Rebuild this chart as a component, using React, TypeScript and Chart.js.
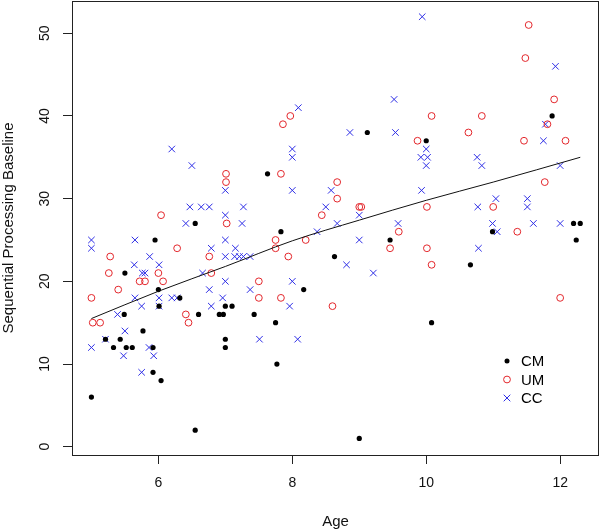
import React, { useEffect, useRef } from 'react';
import { Chart, registerables } from 'chart.js';

Chart.register(...registerables);

const FONT = '"Liberation Sans", Arial, Helvetica, sans-serif';

const seriesNames = ['CM', 'UM', 'CC'];

const cmAge = [5.0, 5.21, 5.33, 5.43, 5.49, 5.5, 5.52, 5.61, 5.77, 5.92, 5.92, 5.95, 6.0, 6.01, 6.04, 6.32, 6.55, 6.55, 6.6, 6.91, 6.97, 7.0, 7.1, 7.0, 7.0, 7.43, 7.63, 7.75, 7.77, 7.83, 8.17, 8.63, 9.0, 9.12, 9.46, 10.0, 10.08, 10.66, 10.99, 11.88, 12.2, 12.3, 12.24];
const cmScore = [6, 13, 12, 13, 16, 21, 12, 12, 14, 12, 9, 25, 19, 17, 8, 18, 27, 2, 16, 16, 16, 17, 17, 13, 12, 16, 33, 15, 10, 26, 19, 23, 1, 38, 25, 37, 15, 22, 26, 40, 27, 27, 25];

const umAge = [5.0, 5.02, 5.13, 5.26, 5.28, 5.4, 5.72, 5.8, 6.0, 6.04, 6.07, 6.28, 6.41, 6.45, 6.76, 6.79, 7.01, 7.01, 7.02, 7.5, 7.5, 7.75, 7.75, 7.83, 7.83, 7.86, 7.94, 7.97, 8.2, 8.44, 8.6, 8.67, 8.67, 9.0, 9.03, 9.46, 9.59, 9.87, 10.01, 10.01, 10.08, 10.08, 10.63, 10.83, 11.0, 11.36, 11.46, 11.48, 11.53, 11.77, 11.81, 11.91, 12.0, 12.08];
const umScore = [18, 15, 15, 21, 23, 19, 20, 20, 21, 28, 20, 24, 16, 15, 23, 21, 33, 32, 27, 20, 18, 25, 24, 18, 33, 39, 23, 40, 25, 28, 17, 32, 30, 29, 29, 24, 26, 37, 29, 24, 22, 40, 38, 40, 29, 26, 37, 47, 51, 32, 39, 42, 18, 37];

const ccAge = [5.0, 5.0, 5.0, 5.21, 5.39, 5.48, 5.5, 5.64, 5.65, 5.65, 5.75, 5.75, 5.76, 5.8, 5.86, 5.87, 5.93, 6.01, 6.01, 6.01, 6.2, 6.28, 6.2, 6.41, 6.47, 6.5, 6.64, 6.66, 6.76, 6.76, 6.79, 6.79, 6.96, 7.0, 7.0, 7.0, 7.0, 7.0, 7.14, 7.15, 7.21, 7.25, 7.27, 7.27, 7.37, 7.37, 7.51, 7.96, 8.0, 8.0, 8.0, 8.0, 8.08, 8.09, 8.37, 8.5, 8.58, 8.67, 8.81, 8.86, 9.0, 9.0, 9.21, 9.52, 9.54, 9.58, 9.93, 9.94, 10.0, 9.92, 10.02, 10.0, 10.76, 10.77, 10.78, 10.83, 10.99, 11.04, 11.06, 11.51, 11.51, 11.6, 11.75, 11.78, 11.93, 12.0, 12.0];
const ccScore = [25, 24, 12, 13, 16, 11, 14, 22, 25, 18, 17, 9, 21, 21, 12, 23, 11, 22, 18, 17, 18, 18, 36, 27, 29, 34, 29, 21, 29, 19, 24, 17, 18, 31, 28, 25, 23, 20, 23, 24, 23, 27, 29, 23, 23, 19, 13, 17, 36, 35, 31, 20, 13, 41, 26, 29, 31, 27, 22, 38, 28, 25, 21, 42, 38, 27, 31, 52, 36, 35, 35, 34, 35, 29, 24, 34, 27, 30, 26, 30, 29, 27, 37, 39, 46, 34, 27];

const fitAge = [5.0, 6.0, 7.0, 8.0, 9.0, 10.0, 11.0, 12.3];
const fitScore = [15.5, 18.8, 21.8, 24.9, 27.4, 29.8, 32.0, 35.0];

const xTicks = [6, 8, 10, 12];
const yTicks = [0, 10, 20, 30, 40, 50];

const RED = '#e3262b';
const BLUE = '#2e2ee6';

const pts = (xs: number[], ys: number[]) => xs.map((x, i) => ({ x, y: ys[i] }));

const framePlugin = {
  id: 'rframe',
  afterDraw(chart: any) {
    const { ctx, chartArea: a } = chart;
    ctx.save();
    ctx.strokeStyle = '#222';
    ctx.lineWidth = 1;
    const l = Math.round(a.left) + 0.5;
    const t = Math.round(a.top) + 0.5;
    const r = Math.round(a.right) - 0.5;
    const b = Math.round(a.bottom) + 0.5;
    ctx.strokeRect(l, t, r - l, b - t);

    // legend (bottom-right, inside plot)
    const sx = a.right - 92;
    const tx = a.right - 78;
    const rows = [a.bottom - 94, a.bottom - 75.5, a.bottom - 57];
    ctx.font = '15px ' + FONT;
    ctx.textBaseline = 'middle';
    ctx.textAlign = 'left';
    ctx.fillStyle = '#000';
    seriesNames.forEach((name, i) => {
      const y = rows[i];
      ctx.beginPath();
      if (i === 0) {
        ctx.fillStyle = '#000';
        ctx.arc(sx, y, 2.5, 0, Math.PI * 2);
        ctx.fill();
      } else if (i === 1) {
        ctx.strokeStyle = RED;
        ctx.arc(sx, y, 3.4, 0, Math.PI * 2);
        ctx.stroke();
      } else {
        ctx.strokeStyle = BLUE;
        const d = 3.3;
        ctx.moveTo(sx - d, y - d);
        ctx.lineTo(sx + d, y + d);
        ctx.moveTo(sx - d, y + d);
        ctx.lineTo(sx + d, y - d);
        ctx.stroke();
      }
      ctx.fillStyle = '#000';
      ctx.fillText(name, tx, y + 1);
    });
    ctx.restore();
  },
};

export default function App() {
  const ref = useRef<HTMLCanvasElement>(null);

  useEffect(() => {
    if (!ref.current) return;
    const chart = new Chart(ref.current, {
      type: 'scatter',
      data: {
        datasets: [
          {
            type: 'line',
            label: 'fit',
            data: pts(fitAge, fitScore),
            borderColor: '#111',
            borderWidth: 1,
            pointRadius: 0,
            cubicInterpolationMode: 'monotone',
            fill: false,
          } as any,
          {
            label: seriesNames[0],
            data: pts(cmAge, cmScore),
            pointStyle: 'circle',
            pointRadius: 2.6,
            backgroundColor: '#000',
            borderColor: '#000',
            borderWidth: 0,
          },
          {
            label: seriesNames[1],
            data: pts(umAge, umScore),
            pointStyle: 'circle',
            pointRadius: 3.4,
            backgroundColor: 'rgba(0,0,0,0)',
            borderColor: RED,
            borderWidth: 1,
          },
          {
            label: seriesNames[2],
            data: pts(ccAge, ccScore),
            pointStyle: 'crossRot',
            pointRadius: 4.6,
            borderColor: BLUE,
            borderWidth: 1,
          },
        ],
      },
      options: {
        animation: false,
        responsive: true,
        maintainAspectRatio: false,
        layout: { autoPadding: false, padding: { top: 1, right: 1, left: 0, bottom: 0 } },
        plugins: { legend: { display: false }, tooltip: { enabled: false } },
        scales: {
          x: {
            type: 'linear',
            min: 4.71,
            max: 12.58,
            afterBuildTicks: (s: any) => {
              s.ticks = xTicks.map((v) => ({ value: v }));
            },
            afterFit: (s: any) => {
              s.height = 76;
              s.paddingLeft = 0;
              s.paddingRight = 0;
              s.paddingTop = 0;
              s.paddingBottom = 0;
            },
            grid: { display: true, drawOnChartArea: false, drawTicks: true, tickLength: 9, color: '#222' },
            border: { display: false },
            ticks: { color: '#111', font: { size: 14, family: FONT }, padding: 11, maxRotation: 0, minRotation: 0 },
            title: { display: true, text: 'Age', color: '#111', font: { size: 15, family: FONT }, padding: { top: 0, bottom: 0 } },
          },
          y: {
            type: 'linear',
            min: -1.0,
            max: 53.9,
            afterBuildTicks: (s: any) => {
              s.ticks = yTicks.map((v) => ({ value: v }));
            },
            afterFit: (s: any) => {
              s.width = 72;
              s.paddingLeft = 0;
              s.paddingRight = 0;
              s.paddingTop = 0;
              s.paddingBottom = 0;
            },
            grid: { display: true, drawOnChartArea: false, drawTicks: true, tickLength: 9, color: '#222' },
            border: { display: false },
            ticks: { color: '#111', font: { size: 14, family: FONT }, padding: 10, minRotation: 90, maxRotation: 90, crossAlign: 'center' },
            title: { display: true, text: 'Sequential Processing Baseline', color: '#111', font: { size: 15, family: FONT }, padding: { top: 0, bottom: 0 } },
          },
        },
      },
      plugins: [framePlugin],
    } as any);
    return () => chart.destroy();
  }, []);

  return (
    <div style={{ position: 'fixed', left: 0, top: 0, width: 600, height: 531, background: '#fff' }}>
      <canvas ref={ref} />
    </div>
  );
}
